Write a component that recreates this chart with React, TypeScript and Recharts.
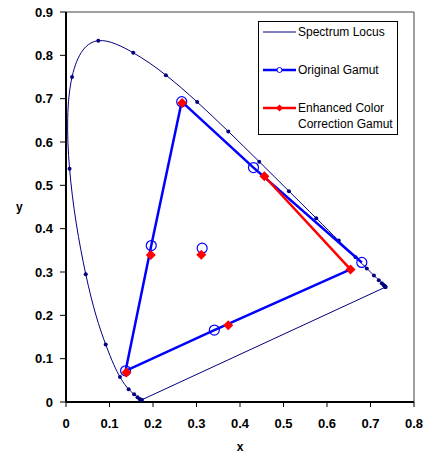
import { ComposedChart, Line, ReferenceLine, Scatter, XAxis, YAxis } from 'recharts';

// CIE 1931 spectrum locus, 5 nm steps
const spectrumLocus = [
  { nm: 380, x: 0.1741, y: 0.005 },
  { nm: 385, x: 0.174, y: 0.005 },
  { nm: 390, x: 0.1738, y: 0.0049 },
  { nm: 395, x: 0.1736, y: 0.0049 },
  { nm: 400, x: 0.1733, y: 0.0048 },
  { nm: 405, x: 0.173, y: 0.0048 },
  { nm: 410, x: 0.1726, y: 0.0048 },
  { nm: 415, x: 0.1721, y: 0.0048 },
  { nm: 420, x: 0.1714, y: 0.0051 },
  { nm: 425, x: 0.1703, y: 0.0058 },
  { nm: 430, x: 0.1689, y: 0.0069 },
  { nm: 435, x: 0.1669, y: 0.0086 },
  { nm: 440, x: 0.1644, y: 0.0109 },
  { nm: 445, x: 0.1611, y: 0.0138 },
  { nm: 450, x: 0.1566, y: 0.0177 },
  { nm: 455, x: 0.151, y: 0.0227 },
  { nm: 460, x: 0.144, y: 0.0297 },
  { nm: 465, x: 0.1355, y: 0.0399 },
  { nm: 470, x: 0.1241, y: 0.0578 },
  { nm: 475, x: 0.1096, y: 0.0868 },
  { nm: 480, x: 0.0913, y: 0.1327 },
  { nm: 485, x: 0.0687, y: 0.2007 },
  { nm: 490, x: 0.0454, y: 0.295 },
  { nm: 495, x: 0.0235, y: 0.4127 },
  { nm: 500, x: 0.0082, y: 0.5384 },
  { nm: 505, x: 0.0039, y: 0.6548 },
  { nm: 510, x: 0.0139, y: 0.7502 },
  { nm: 515, x: 0.0389, y: 0.812 },
  { nm: 520, x: 0.0743, y: 0.8338 },
  { nm: 525, x: 0.1142, y: 0.8262 },
  { nm: 530, x: 0.1547, y: 0.8059 },
  { nm: 535, x: 0.1929, y: 0.7816 },
  { nm: 540, x: 0.2296, y: 0.7543 },
  { nm: 545, x: 0.2658, y: 0.7243 },
  { nm: 550, x: 0.3016, y: 0.6923 },
  { nm: 555, x: 0.3373, y: 0.6589 },
  { nm: 560, x: 0.3731, y: 0.6245 },
  { nm: 565, x: 0.4087, y: 0.5896 },
  { nm: 570, x: 0.4441, y: 0.5547 },
  { nm: 575, x: 0.4788, y: 0.5202 },
  { nm: 580, x: 0.5125, y: 0.4866 },
  { nm: 585, x: 0.5448, y: 0.4544 },
  { nm: 590, x: 0.5752, y: 0.4242 },
  { nm: 595, x: 0.6029, y: 0.3965 },
  { nm: 600, x: 0.627, y: 0.3725 },
  { nm: 605, x: 0.6482, y: 0.3514 },
  { nm: 610, x: 0.6658, y: 0.334 },
  { nm: 615, x: 0.6801, y: 0.3197 },
  { nm: 620, x: 0.6915, y: 0.3083 },
  { nm: 625, x: 0.7006, y: 0.2993 },
  { nm: 630, x: 0.7079, y: 0.292 },
  { nm: 635, x: 0.714, y: 0.2859 },
  { nm: 640, x: 0.719, y: 0.2809 },
  { nm: 645, x: 0.723, y: 0.277 },
  { nm: 650, x: 0.726, y: 0.274 },
  { nm: 655, x: 0.7283, y: 0.2717 },
  { nm: 660, x: 0.73, y: 0.27 },
  { nm: 665, x: 0.7311, y: 0.2689 },
  { nm: 670, x: 0.732, y: 0.268 },
  { nm: 675, x: 0.7327, y: 0.2673 },
  { nm: 680, x: 0.7334, y: 0.2666 },
  { nm: 685, x: 0.734, y: 0.266 },
  { nm: 690, x: 0.7344, y: 0.2656 },
  { nm: 695, x: 0.7346, y: 0.2654 },
  { nm: 700, x: 0.7347, y: 0.2653 },
];

// original gamut points: G, mid G-R, R, mid R-B, B, mid B-G, white
const originalGamut = [
  { x: 0.266, y: 0.693 },
  { x: 0.431, y: 0.541 },
  { x: 0.68, y: 0.322 },
  { x: 0.341, y: 0.166 },
  { x: 0.137, y: 0.072 },
  { x: 0.196, y: 0.361 },
  { x: 0.313, y: 0.355 },
];

const enhancedGamut = [
  { x: 0.267, y: 0.69 },
  { x: 0.456, y: 0.521 },
  { x: 0.654, y: 0.306 },
  { x: 0.373, y: 0.177 },
  { x: 0.139, y: 0.068 },
  { x: 0.195, y: 0.339 },
  { x: 0.311, y: 0.34 },
];

const xTicks = [0, 0.1, 0.2, 0.3, 0.4, 0.5, 0.6, 0.7, 0.8];
const yTicks = [0, 0.1, 0.2, 0.3, 0.4, 0.5, 0.6, 0.7, 0.8, 0.9];

const locusDots = spectrumLocus.filter((p) => p.nm % 10 === 0);
// purple line closing the locus: 700 nm back to 380 nm
const purpleLine = [spectrumLocus[spectrumLocus.length - 1], spectrumLocus[0]];

// blue outline: R -> G -> B -> enhanced R
const blueOutline = [
  originalGamut[2],
  originalGamut[1],
  originalGamut[0],
  originalGamut[5],
  originalGamut[4],
  originalGamut[3],
  enhancedGamut[2],
];
const redOutline = [enhancedGamut[1], enhancedGamut[2]];

const FONT = '"Liberation Sans", Arial, sans-serif';
const NAVY = '#000080';
const BLUE = '#0000ff';
const RED = '#ff0000';

const fmt = (v: number) => (v === 0 ? '0' : v.toFixed(1));
const noShape = () => <g />;

const Diamond = (props: any) => {
  const { cx, cy } = props;
  const r = 5;
  return <polygon points={`${cx},${cy - r} ${cx + r},${cy} ${cx},${cy + r} ${cx - r},${cy}`} fill={RED} />;
};

const Ring = (props: any) => <circle cx={props.cx} cy={props.cy} r={5} fill="none" stroke={BLUE} strokeWidth={1.2} />;

const Dot = (props: any) => <circle cx={props.cx} cy={props.cy} r={2} fill={NAVY} />;

const tickStyle = { fill: '#000', fontSize: 13, fontWeight: 'bold' as const, fontFamily: FONT };

function LegendBox() {
  const row = (top: number, sample: any, lines: string[]) => (
    <div style={{ position: 'absolute', left: 4, top, display: 'flex', alignItems: 'flex-start' }}>
      <svg width={34} height={16}>{sample}</svg>
      <div style={{ marginLeft: 1 }}>
        {lines.map((l) => (
          <div key={l} style={{ height: 16, lineHeight: '16px', whiteSpace: 'nowrap' }}>{l}</div>
        ))}
      </div>
    </div>
  );
  return (
    <div
      style={{
        position: 'absolute',
        left: 258,
        top: 21,
        width: 138,
        height: 112,
        border: '1px solid #000',
        background: '#fff',
        fontFamily: FONT,
        fontSize: 12,
        color: '#000',
      }}
    >
      {row(2, <line x1={0} y1={8} x2={33} y2={8} stroke={NAVY} strokeWidth={1} />, ['Spectrum Locus'])}
      {row(
        40,
        <g>
          <line x1={0} y1={8} x2={33} y2={8} stroke={BLUE} strokeWidth={2.5} />
          <circle cx={16.5} cy={8} r={2.5} fill="#fff" stroke={BLUE} strokeWidth={1} />
        </g>,
        ['Original Gamut'],
      )}
      {row(
        78,
        <g>
          <line x1={0} y1={8} x2={33} y2={8} stroke={RED} strokeWidth={2.5} />
          <polygon points="16.5,4.5 20,8 16.5,11.5 13,8" fill={RED} />
        </g>,
        ['Enhanced Color', 'Correction Gamut'],
      )}
    </div>
  );
}

export default function App() {
  return (
    <div style={{ position: 'absolute', left: 0, top: 0, width: 429, height: 456, background: '#fff' }}>
      <ComposedChart width={429} height={456} margin={{ top: 12, right: 15, bottom: 0, left: 0 }}>
        <XAxis
          type="number"
          dataKey="x"
          domain={[0, 0.8]}
          ticks={xTicks}
          tickFormatter={fmt}
          height={54}
          axisLine={{ stroke: '#000', strokeWidth: 2 }}
          tickLine={{ stroke: '#000' }}
          tickSize={5}
          tickMargin={12}
          tick={tickStyle}
          interval={0}
          allowDataOverflow
          label={{ value: 'x', position: 'insideBottom', offset: 5, fill: '#000', fontSize: 12, fontWeight: 'bold', fontFamily: FONT }}
        />
        <YAxis
          type="number"
          dataKey="y"
          domain={[0, 0.9]}
          ticks={yTicks}
          tickFormatter={fmt}
          width={66}
          axisLine={{ stroke: '#000', strokeWidth: 2 }}
          tickLine={{ stroke: '#000' }}
          tickSize={6}
          tickMargin={7}
          tick={tickStyle}
          interval={0}
          allowDataOverflow
          label={{ value: 'y', position: 'insideLeft', offset: 16, fill: '#000', fontSize: 12, fontWeight: 'bold', fontFamily: FONT }}
        />
        <ReferenceLine y={0.9} stroke="#808080" strokeWidth={1.5} />
        <ReferenceLine x={0.8} stroke="#808080" strokeWidth={1.5} />
        <Line
          data={spectrumLocus}
          dataKey="y"
          type="natural"
          stroke={NAVY}
          strokeWidth={1}
          dot={false}
          activeDot={false}
          isAnimationActive={false}
        />
        <Scatter
          data={purpleLine}
          line={{ stroke: NAVY, strokeWidth: 1 }}
          shape={noShape}
          isAnimationActive={false}
        />
        <Scatter data={locusDots} shape={Dot} isAnimationActive={false} />
        <Scatter
          data={blueOutline}
          line={{ stroke: BLUE, strokeWidth: 2.5 }}
          shape={noShape}
          isAnimationActive={false}
        />
        <Scatter
          data={redOutline}
          line={{ stroke: RED, strokeWidth: 2.5 }}
          shape={noShape}
          isAnimationActive={false}
        />
        <Scatter data={originalGamut} shape={Ring} isAnimationActive={false} />
        <Scatter data={enhancedGamut} shape={Diamond} isAnimationActive={false} />
      </ComposedChart>
      <LegendBox />
    </div>
  );
}
